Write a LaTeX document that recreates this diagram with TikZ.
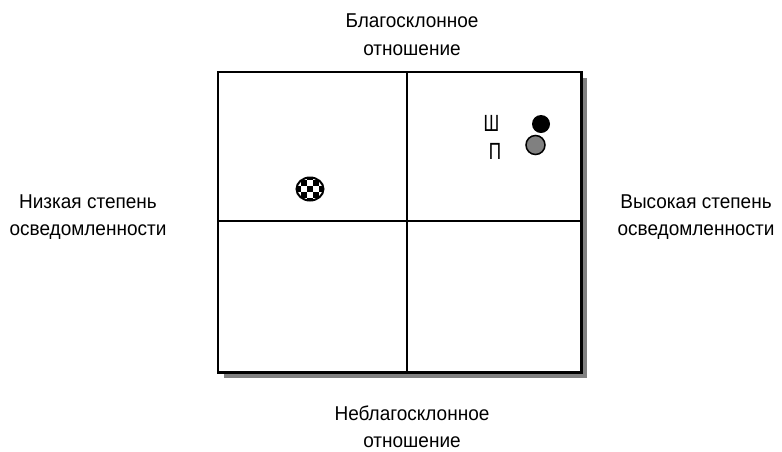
\documentclass[tikz,border=0pt]{standalone}
\usepackage{fontspec}
\setmainfont{Liberation Sans}[FakeStretch=0.95]
\usetikzlibrary{shapes.geometric}
\begin{document}
\begin{tikzpicture}[x=1pt,y=-1pt,
  lbl/.style={align=center,font=\fontsize{20}{27.5}\selectfont,inner sep=0pt},
  letterlbl/.style={inner sep=0pt,font=\fontsize{18}{20}\selectfont},
  frame/.style={draw=black,line width=2.2pt},
  divider/.style={draw=black,line width=1.7pt}]
\useasboundingbox (0,0) rectangle (782,451);
% shadow
\fill[black!50] (224,78) rectangle (587,378);
\fill[white] (218,72) rectangle (581,372);
\node[inner sep=0pt,minimum width=363pt,minimum height=300pt,anchor=north west] (box) at (218,72) {};
\draw[frame] (box.north west) rectangle (box.south east);
\coordinate (vt) at (407,72);
\coordinate (vb) at (407,372);
\coordinate (hl) at (218,221);
\coordinate (hr) at (581,221);
\draw[divider] (vt) -- (vb);
\draw[divider] (hl) -- (hr);
% labels
\node[lbl] (top) at (412,34.5) {Благосклонное\\отношение};
\node[lbl] (bottom) at (412,427) {Неблагосклонное\\отношение};
\node[lbl] (left) at (88,217) {Низкая степень\\осведомленности};
\node[lbl] (right) at (696,217) {Высокая степень\\осведомленности};
% markers
\node[letterlbl] (sh) at (491.5,123) {\scalebox{1}[1.3]{Ш}};
\node[letterlbl] (pe) at (495,151.5) {\scalebox{1}[1.3]{П}};
\node[circle,fill=black,inner sep=0pt,minimum size=18pt] (black) at (541,124) {};
\node[circle,fill=black!50,draw=black,line width=1.5pt,inner sep=0pt,minimum size=19pt] (grey) at (535.5,145) {};
% checkered
\begin{scope}
\clip (310,189) ellipse (13.5 and 11.5);
\foreach \i in {0,...,4}{\foreach \j in {0,...,4}{
  \pgfmathtruncatemacro{\parity}{mod(\i+\j,2)}
  \ifnum\parity=0\relax
    \fill[black] (295+\i*6,174+\j*6) rectangle +(6,6);
  \fi}}
\end{scope}
\node[ellipse,draw=black,line width=2pt,inner sep=0pt,minimum width=27pt,minimum height=23pt] (chk) at (310,189) {};
\end{tikzpicture}
\end{document}
